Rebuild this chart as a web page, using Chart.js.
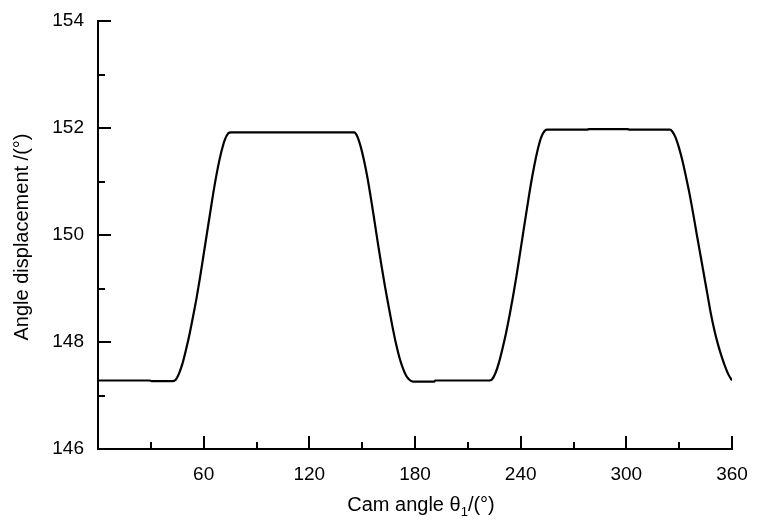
<!DOCTYPE html>
<html>
<head>
<meta charset="utf-8">
<script src="https://cdn.jsdelivr.net/npm/chart.js@4/dist/chart.umd.min.js"></script>
<style>
html,body{margin:0;padding:0;background:#fff;}
#wrap{width:757px;height:523px;position:relative;}
</style>
</head>
<body>
<div id="wrap"><canvas id="c" width="757" height="523"></canvas></div>
<script>
const camAngle = [
  0, 29.6, 30.2, 42.5,
  44, 46, 48, 50, 52, 54, 56, 58, 60, 62, 64, 66, 68, 70, 72, 74, 75.5,
  100, 120, 145.5,
  147, 149, 151, 153, 155, 157, 159, 161, 163, 165, 167, 169, 171, 173, 175, 177, 179,
  191, 191.5, 222.2,
  223.7, 225.7, 227.7, 229.7, 231.7, 233.7, 235.7, 237.7, 239.7, 241.7, 243.7, 245.7, 247.7, 249.7, 251.7, 253.7, 255.2,
  278, 278.5, 301, 301.5, 324.8,
  326, 328, 330, 332, 334, 336, 338, 340, 342, 344, 346, 348, 350, 352, 354, 356, 358, 360
];
const displacement = [
  147.28, 147.28, 147.27, 147.27,
  147.29, 147.41, 147.60, 147.86, 148.15, 148.48, 148.83, 149.22, 149.64, 150.06, 150.48, 150.89, 151.25, 151.55, 151.78, 151.90, 151.92,
  151.92, 151.92, 151.92,
  151.86, 151.67, 151.40, 151.07, 150.68, 150.26, 149.83, 149.42, 149.03, 148.67, 148.32, 148.00, 147.73, 147.52, 147.37, 147.29, 147.26,
  147.26, 147.28, 147.28,
  147.30, 147.42, 147.62, 147.88, 148.17, 148.50, 148.86, 149.25, 149.67, 150.10, 150.52, 150.93, 151.29, 151.60, 151.83, 151.95, 151.97,
  151.97, 151.98, 151.98, 151.97, 151.97,
  151.94, 151.82, 151.62, 151.37, 151.07, 150.75, 150.39, 150.01, 149.64, 149.27, 148.90, 148.53, 148.22, 147.96, 147.74, 147.55, 147.39, 147.28
];
const xTickLabels = ['60', '120', '180', '240', '300', '360'];
const yTickLabels = ['146', '148', '150', '152', '154'];
const xTitle = ['Cam angle θ', '1', '/(°)'];
const yTitle = 'Angle displacement /(°)';

const FONT = '"Liberation Sans", Arial, sans-serif';

const innerTicks = {
  id: 'innerTicks',
  afterDraw(chart) {
    const ctx = chart.ctx;
    const xs = chart.scales.x, ys = chart.scales.y;
    const a = chart.chartArea;
    ctx.save();
    ctx.strokeStyle = '#000';
    ctx.lineWidth = 2;
    ctx.lineCap = 'butt';
    xs.ticks.forEach(t => {
      const px = Math.round(xs.getPixelForValue(t.value));
      const len = (t.value % 60 === 0) ? 13 : 7;
      ctx.beginPath();
      ctx.moveTo(px, a.bottom);
      ctx.lineTo(px, a.bottom - len);
      ctx.stroke();
    });
    ys.ticks.forEach(t => {
      const py = Math.round(ys.getPixelForValue(t.value));
      const len = (Math.round(t.value) % 2 === 0) ? 13 : 7;
      ctx.beginPath();
      ctx.moveTo(a.left, py);
      ctx.lineTo(a.left + len, py);
      ctx.stroke();
    });
    // axis titles
    ctx.fillStyle = '#000';
    ctx.textBaseline = 'middle';
    ctx.font = '20px ' + FONT;
    const w0 = ctx.measureText(xTitle[0]).width;
    ctx.font = '13px ' + FONT;
    const w1 = ctx.measureText(xTitle[1]).width;
    ctx.font = '20px ' + FONT;
    const w2 = ctx.measureText(xTitle[2]).width;
    let x0 = 421 - (w0 + w1 + w2) / 2;
    const ty = 505;
    ctx.textAlign = 'left';
    ctx.fillText(xTitle[0], x0, ty);
    ctx.font = '13px ' + FONT;
    ctx.fillText(xTitle[1], x0 + w0, ty + 7);
    ctx.font = '20px ' + FONT;
    ctx.fillText(xTitle[2], x0 + w0 + w1, ty);

    ctx.translate(22, (a.top + a.bottom) / 2 + 2);
    ctx.rotate(-Math.PI / 2);
    ctx.textAlign = 'center';
    ctx.fillText(yTitle, 0, 0);
    ctx.restore();
  }
};

new Chart(document.getElementById('c'), {
  type: 'line',
  data: {
    datasets: [{
      data: camAngle.map((x, i) => ({x: x, y: displacement[i]})),
      borderColor: '#000',
      borderWidth: 2.2,
      pointRadius: 0,
      fill: false,
      cubicInterpolationMode: 'monotone'
    }]
  },
  options: {
    responsive: false,
    animation: false,
    layout: {padding: {top: 21, right: 25, left: 0, bottom: 0}},
    plugins: {legend: {display: false}, tooltip: {enabled: false}},
    scales: {
      x: {
        type: 'linear',
        min: 0, max: 360,
        afterFit(s) { s.height = 74; s.paddingLeft = 0; s.paddingRight = 0; },
        border: {display: true, color: '#000', width: 2},
        grid: {display: false, drawTicks: false},
        ticks: {
          stepSize: 30,
          autoSkip: false,
          maxRotation: 0,
          padding: 14,
          color: '#000',
          font: {family: FONT, size: 19},
          callback: (v) => {
            const i = xTickLabels.indexOf(String(v));
            return i >= 0 ? xTickLabels[i] : '';
          }
        }
      },
      y: {
        type: 'linear',
        min: 146, max: 154,
        afterFit(s) { s.width = 98; s.paddingTop = 0; s.paddingBottom = 0; },
        border: {display: true, color: '#000', width: 2},
        grid: {display: false, drawTicks: false},
        ticks: {
          stepSize: 1,
          autoSkip: false,
          padding: 14,
          color: '#000',
          font: {family: FONT, size: 19},
          callback: (v) => {
            const i = yTickLabels.indexOf(String(v));
            return i >= 0 ? yTickLabels[i] : '';
          }
        }
      }
    }
  },
  plugins: [innerTicks]
});
</script>
</body>
</html>
